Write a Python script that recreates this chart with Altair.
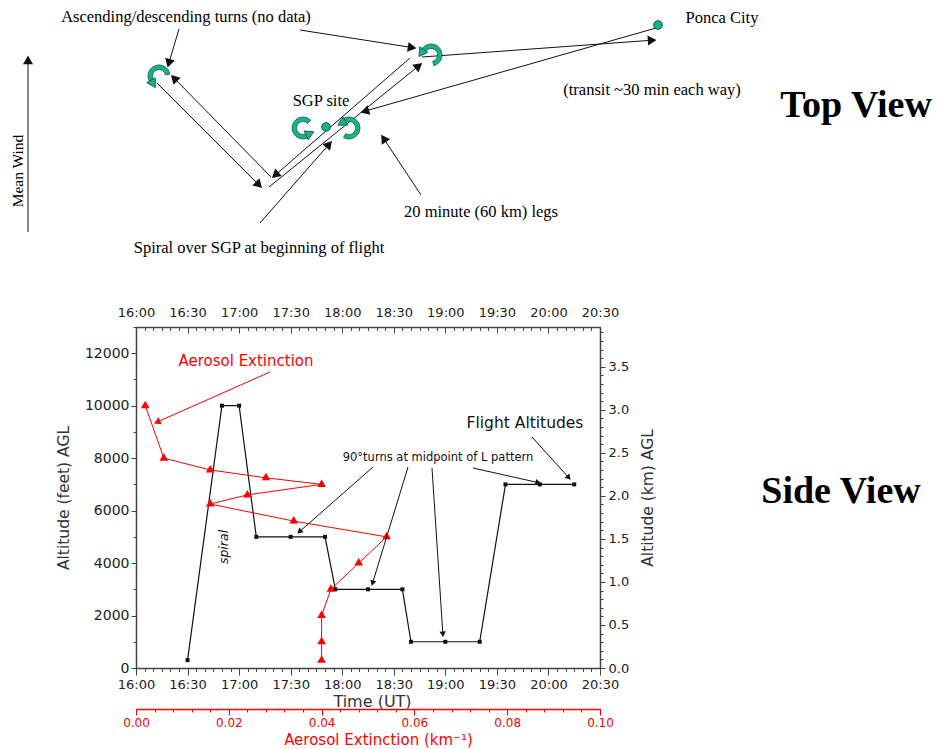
import math
import altair as alt
import pandas as pd

# ---------------- Side view: flight altitudes ----------------
flight_time = ["16:30", "16:50", "17:00", "17:10", "17:30", "17:50", "17:56",
               "18:15", "18:35", "18:40", "19:00", "19:20", "19:35", "19:55", "20:15"]
flight_alt_ft = [300, 10000, 10000, 5000, 5000, 5000, 3000,
                 3000, 3000, 1000, 1000, 1000, 7000, 7000, 7000]

# ---------------- Side view: aerosol extinction profile ----------------
ext_km = [0.002, 0.006, 0.016, 0.028, 0.040, 0.024, 0.016,
          0.034, 0.054, 0.048, 0.042, 0.040, 0.040, 0.040]
ext_alt_ft = [10000, 8000, 7550, 7250, 7000, 6600, 6250,
              5600, 5000, 4000, 3000, 2000, 1000, 300]

# ---------------- Axis ticks ----------------
time_ticks = ["16:00", "16:30", "17:00", "17:30", "18:00", "18:30",
              "19:00", "19:30", "20:00", "20:30"]
ft_ticks = [0, 2000, 4000, 6000, 8000, 10000, 12000]
km_ticks = [0.0, 0.5, 1.0, 1.5, 2.0, 2.5, 3.0, 3.5]
ext_ticks = [0.00, 0.02, 0.04, 0.06, 0.08, 0.10]
FT_MAX = 13000
KM_PER_FT = 0.0003048
EXT_MAX = 0.10

# ---------------- Schematic (page pixel coordinates) ----------------
# [x1, y1, x2, y2]; arrowhead at (x2, y2)
top_arrows = [
    [28, 232, 28, 57],      # mean wind
    [179, 29, 168, 66],     # label -> left turn
    [300, 30, 415, 48],     # label -> right turn
    [157, 83, 261, 187],    # leg 1 outbound
    [271, 177, 172, 76],    # leg 1 return
    [410, 58, 273, 177],    # leg 2 inbound
    [269, 187, 421, 64],    # leg 2 outbound
    [422, 57, 655, 40],     # transit to Ponca City
    [656, 28, 362, 112],    # transit back
    [260, 223, 331, 142],   # spiral label
    [421, 195, 382, 136],   # legs label
]
side_arrows_black = [
    [373, 467, 298, 533],
    [408, 467, 372, 585],
    [432, 468, 443, 636],
    [473, 468, 540, 483],
    [532, 437, 570, 479],
]
side_arrows_red = [[270, 372, 155, 423]]

# turns: cx, cy, mid radius, start angle, end angle (deg clockwise from north, arrow at end)
turns = [
    [159, 76, 9, 80, -120],
    [431, 55, 9, 165, -55],
    [303, 128, 8, 45, -205],
    [349, 128, 8, 210, -30],
]
sites = [[326, 127], [658, 25]]

serif_texts = [
    ["Ascending/descending turns (no data)", 186, 17],
    ["SGP site", 321, 101],
    ["Ponca City", 722, 17.5],
    ["(transit ~30 min each way)", 652, 90],
    ["20 minute (60 km) legs", 481, 211.5],
    ["Spiral over SGP at beginning of flight", 259, 248],
]
rot_serif_texts = [["Mean Wind", 18, 171]]
big_texts = [["Top View", 856, 117], ["Side View", 841, 503]]
red_notes = [["Aerosol Extinction", 246, 361]]
black_notes = [["Flight Altitudes", 525, 423]]
small_notes = [["90\u00b0turns at midpoint of L pattern", 438, 458]]
italic_notes = [["spiral", 224, 547]]

# ---------------- Layout ----------------
W, H = 464, 341
PAD = {"left": 128, "top": 319, "right": 336, "bottom": 80}
RED = "#ff0000"
GREEN = "#17b38c"
GREEN_DARK = "#0b5a47"


def hm(s):
    h, m = s.split(":")
    return (int(h) - 16) * 60 + int(m)


T_MAX = hm(time_ticks[-1])
major_t = [hm(s) for s in time_ticks]
minor_t = list(range(0, T_MAX + 1, 5))
TLABEL = ("(floor(datum.value/60)+16) + ':' + (datum.value % 60 < 10 ? '0' : '') "
          "+ (datum.value % 60)")

AX = dict(grid=False, labelFont="DejaVu Sans", labelFontSize=13, labelColor="#222",
          domainColor="#444", domainWidth=1.5, tickColor="#444", tickWidth=1,
          titleFont="DejaVu Sans", titleFontSize=15.5, titleFontWeight="normal",
          titleColor="#333", labelFlush=False, labelOverlap=False)


def ax(**kw):
    d = dict(AX)
    d.update(kw)
    return alt.Axis(**d)


def minor_ax(orient, vals, size, offset=0, color="#444"):
    return alt.Axis(orient=orient, values=vals, tickSize=size, labels=False, domain=False,
                    title=None, grid=False, tickColor=color, tickWidth=1, offset=offset)


time_scale = alt.Scale(domain=[0, T_MAX], nice=False, zero=False)
ft_scale = alt.Scale(domain=[0, FT_MAX], nice=False, zero=False)
km_scale = alt.Scale(domain=[0, FT_MAX * KM_PER_FT], nice=False, zero=False)
ext_scale = alt.Scale(domain=[0, EXT_MAX], nice=False, zero=False)


def PX(f):
    return alt.X(f"{f}:Q", scale=alt.Scale(domain=[136, 136 + W], nice=False, zero=False), axis=None)


def PY(f):
    return alt.Y(f"{f}:Q", scale=alt.Scale(domain=[327, 327 + H], reverse=True, nice=False, zero=False),
                 axis=None)


flight_df = pd.DataFrame({"t": [hm(s) for s in flight_time], "ft": flight_alt_ft})
ext_df = pd.DataFrame({"ext": ext_km, "ft": ext_alt_ft, "ord": list(range(len(ext_km)))})

layers = []

# flight altitude line + main axes
layers.append(alt.Chart(flight_df).mark_line(color="#111", strokeWidth=1.2).encode(
    x=alt.X("t:Q", scale=time_scale, axis=ax(
        orient="bottom", values=major_t, labelExpr=TLABEL, tickSize=7, labelPadding=3,
        title="Time (UT)", titleX=236, titleY=33, titleBaseline="middle", titleFontSize=16)),
    y=alt.Y("ft:Q", scale=ft_scale, axis=ax(
        orient="left", values=ft_ticks, format="d", tickSize=5, labelPadding=2, labelFontSize=14,
        title="Altitude (feet) AGL", titleX=-73, titleBaseline="middle", titleAngle=270)),
))
layers.append(alt.Chart(flight_df).mark_square(size=16, color="#111", opacity=1).encode(
    x=alt.X("t:Q", scale=time_scale, axis=None),
    y=alt.Y("ft:Q", scale=ft_scale, axis=None),
))

# extra axes (minor ticks, top, right)
tdf_minor = pd.DataFrame({"t": minor_t})
tdf_major = pd.DataFrame({"t": major_t})
layers.append(alt.Chart(tdf_minor).mark_point(opacity=0).encode(
    x=alt.X("t:Q", scale=time_scale, axis=minor_ax("bottom", minor_t, 3.5))))
layers.append(alt.Chart(tdf_major).mark_point(opacity=0).encode(
    x=alt.X("t:Q", scale=time_scale, axis=ax(
        orient="top", values=major_t, labelExpr=TLABEL, ticks=False, tickSize=0,
        labelPadding=8, title=None))))
layers.append(alt.Chart(tdf_major).mark_point(opacity=0).encode(
    x=alt.X("t:Q", scale=time_scale, axis=minor_ax("bottom", major_t, 6, offset=-H))))
layers.append(alt.Chart(tdf_minor).mark_point(opacity=0).encode(
    x=alt.X("t:Q", scale=time_scale, axis=minor_ax("bottom", minor_t, 3.5, offset=-H))))
ft_minor = list(range(0, FT_MAX + 1, 1000))
layers.append(alt.Chart(pd.DataFrame({"ft": ft_minor})).mark_point(opacity=0).encode(
    y=alt.Y("ft:Q", scale=ft_scale, axis=minor_ax("left", ft_minor, 3))))
km_minor = [round(i * 0.1, 1) for i in range(0, 40)]
layers.append(alt.Chart(pd.DataFrame({"km": km_ticks})).mark_point(opacity=0).encode(
    y=alt.Y("km:Q", scale=km_scale, axis=ax(
        orient="right", values=km_ticks, format=".1f", tickSize=5, labelPadding=3,
        title="Altitude (km) AGL", titleAngle=270, titleX=47, titleBaseline="middle"))))
layers.append(alt.Chart(pd.DataFrame({"km": km_minor})).mark_point(opacity=0).encode(
    y=alt.Y("km:Q", scale=km_scale, axis=minor_ax("right", km_minor, 3))))

# aerosol extinction profile
layers.append(alt.Chart(ext_df).mark_line(color=RED, strokeWidth=1).encode(
    x=alt.X("ext:Q", scale=ext_scale, axis=ax(
        orient="bottom", offset=41, values=ext_ticks, format=".2f", tickSize=6, labelPadding=2,
        labelFontSize=12, labelColor=RED, domainColor=RED, tickColor=RED, titleColor=RED,
        titleFontSize=15,
        title="Aerosol Extinction (km\u207b\u00b9)", titleX=242, titleY=30, titleBaseline="middle")),
    y=alt.Y("ft:Q", scale=ft_scale, axis=None),
    order=alt.Order("ord:Q"),
))
layers.append(alt.Chart(ext_df).mark_point(shape="triangle", filled=True, color=RED, size=75,
                                           opacity=1).encode(
    x=alt.X("ext:Q", scale=ext_scale, axis=None),
    y=alt.Y("ft:Q", scale=ft_scale, axis=None),
))
ext_minor = [round(i * 0.004, 3) for i in range(0, 26)]
layers.append(alt.Chart(pd.DataFrame({"ext": ext_minor})).mark_point(opacity=0).encode(
    x=alt.X("ext:Q", scale=ext_scale, axis=minor_ax("bottom", ext_minor, 3, offset=41, color=RED))))

# ---------------- schematic lines and arrowheads ----------------
seg_rows, head_rows = [], []
for group, col, size in [(top_arrows, "#111", 100), (side_arrows_black, "#111", 40),
                         (side_arrows_red, RED, 60)]:
    for x1, y1, x2, y2 in group:
        dx, dy = x2 - x1, y2 - y1
        L = math.hypot(dx, dy)
        ux, uy = dx / L, dy / L
        h = 0.433 * math.sqrt(size)
        seg_rows.append({"x1": x1, "y1": y1, "x2": x2 - ux * h, "y2": y2 - uy * h, "col": col})
        head_rows.append({"x": x2 - ux * h, "y": y2 - uy * h, "col": col, "s": size,
                          "ang": math.degrees(math.atan2(ux, -uy)) % 360})

layers.append(alt.Chart(pd.DataFrame(seg_rows)).mark_rule(strokeWidth=1).encode(
    x=PX("x1"), y=PY("y1"), x2="x2:Q", y2="y2:Q", color=alt.Color("col:N", scale=None)))
layers.append(alt.Chart(pd.DataFrame(head_rows)).mark_point(shape="triangle", filled=True,
                                                            opacity=1).encode(
    x=PX("x"), y=PY("y"), color=alt.Color("col:N", scale=None),
    size=alt.Size("s:Q", scale=None), angle=alt.Angle("ang:Q", scale=None)))

# turn symbols
arc_rows, turn_heads = [], []
for cx, cy, r, a0, a1 in turns:
    arc_rows.append({"cx": cx, "cy": cy, "t1": math.radians(min(a0, a1)),
                     "t2": math.radians(max(a0, a1))})
    e = math.radians(a1)
    sgn = 1 if a1 > a0 else -1
    px, py = cx + r * math.sin(e), cy - r * math.cos(e)
    ux, uy = sgn * math.cos(e), sgn * math.sin(e)
    size = 95
    h = 0.433 * math.sqrt(size)
    turn_heads.append({"x": px + ux * h * 0.6, "y": py + uy * h * 0.6,
                       "ang": math.degrees(math.atan2(ux, -uy)) % 360})

layers.append(alt.Chart(pd.DataFrame(arc_rows)).mark_arc(
    innerRadius=6.5, outerRadius=11, fill=GREEN, stroke=GREEN_DARK, strokeWidth=0.8).encode(
    x=PX("cx"), y=PY("cy"), theta=alt.Theta("t1:Q", scale=None), theta2=alt.Theta2("t2:Q")))
layers.append(alt.Chart(pd.DataFrame(turn_heads)).mark_point(
    shape="triangle", filled=True, fill=GREEN, stroke=GREEN_DARK, strokeWidth=0.8, size=95,
    opacity=1).encode(x=PX("x"), y=PY("y"), angle=alt.Angle("ang:Q", scale=None)))

layers.append(alt.Chart(pd.DataFrame(sites, columns=["x", "y"])).mark_circle(
    size=75, fill=GREEN, stroke=GREEN_DARK, strokeWidth=1, opacity=1).encode(
    x=PX("x"), y=PY("y")))


def text_layer(items, font, size, color="#000", angle=None, weight="normal",
               style="normal", baseline="middle"):
    df = pd.DataFrame(items, columns=["label", "x", "y"])
    mk = dict(font=font, fontSize=size, color=color, align="center", baseline=baseline,
              fontWeight=weight, fontStyle=style)
    if angle is not None:
        mk["angle"] = angle
    return alt.Chart(df).mark_text(**mk).encode(x=PX("x"), y=PY("y"), text="label:N")


layers.append(text_layer(serif_texts, "Liberation Serif", 16.5))
layers.append(text_layer(rot_serif_texts, "Liberation Serif", 15.5, angle=270))
layers.append(text_layer(big_texts, "Liberation Serif", 38, weight="bold", baseline="alphabetic"))
layers.append(text_layer(red_notes, "DejaVu Sans", 15, color=RED))
layers.append(text_layer(black_notes, "DejaVu Sans", 15.5, color="#111"))
layers.append(text_layer(small_notes, "DejaVu Sans", 11.5, color="#111"))
layers.append(text_layer(italic_notes, "DejaVu Sans", 12.5, color="#111", angle=270,
                         style="italic"))

chart = alt.layer(*layers).resolve_scale(
    x="independent", y="independent"
).properties(
    width=W, height=H, padding=PAD, autosize=alt.AutoSizeParams(type="none"),
    background="white",
).configure_view(stroke=None)

chart.save("out.html", embed_options={"renderer": "svg", "actions": False})
